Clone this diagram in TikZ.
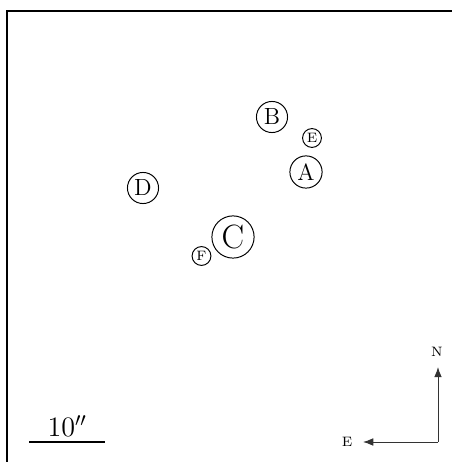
\documentclass[tikz,border=0pt]{standalone}
\usepackage{amsmath,amssymb}
\usepackage{tikz}
\usetikzlibrary{arrows.meta,positioning,calc}

\begin{document}
\begin{tikzpicture}[x=1cm,y=1cm,>=Latex,
  src/.style={draw=black,circle,inner sep=0pt,line width=.5pt,minimum size=.56cm,font=\large},
  faint/.style={src,minimum size=.34cm,font=\scriptsize},
  compass/.style={->,line width=.5pt,draw=black!80},
  dirlabel/.style={font=\scriptsize,inner sep=1pt}]
\useasboundingbox (0,0) rectangle (8.136,8.316);
% field edge
\draw[line width=.6pt] (0.126,0) -- (0.126,8.118) -- (8.136,8.118);
% sources
\node[src] (b) at (4.896,6.21) {B};
\node[faint] (e) at (5.616,5.832) {E};
\node[src,minimum size=.58cm] (a) at (5.508,5.22) {A};
\node[src] (d) at (2.574,4.932) {D};
\node[src,minimum size=.76cm,font=\LARGE] (c) at (4.194,4.05) {C};
\node[faint] (f) at (3.627,3.708) {F};
% scale bar
\coordinate (barl) at (0.527,0.36);
\coordinate (barr) at (1.89,0.36);
\draw[line width=.6pt] (barl) -- (barr);
\node[anchor=base,font=\Large,inner sep=0pt] (scale) at ($(barl)!.5!(barr)+(0,0.1)$) {$10''$};
% orientation
\coordinate (corner) at (7.884,0.36);
\coordinate (ntip) at (7.884,1.71);
\coordinate (etip) at (6.534,0.36);
\node[dirlabel] (n) at (7.866,1.98) {N};
\node[dirlabel] (east) at (6.246,0.36) {E};
\draw[compass] (corner) -- (ntip);
\draw[compass] (corner) -- (etip);
\end{tikzpicture}
\end{document}
